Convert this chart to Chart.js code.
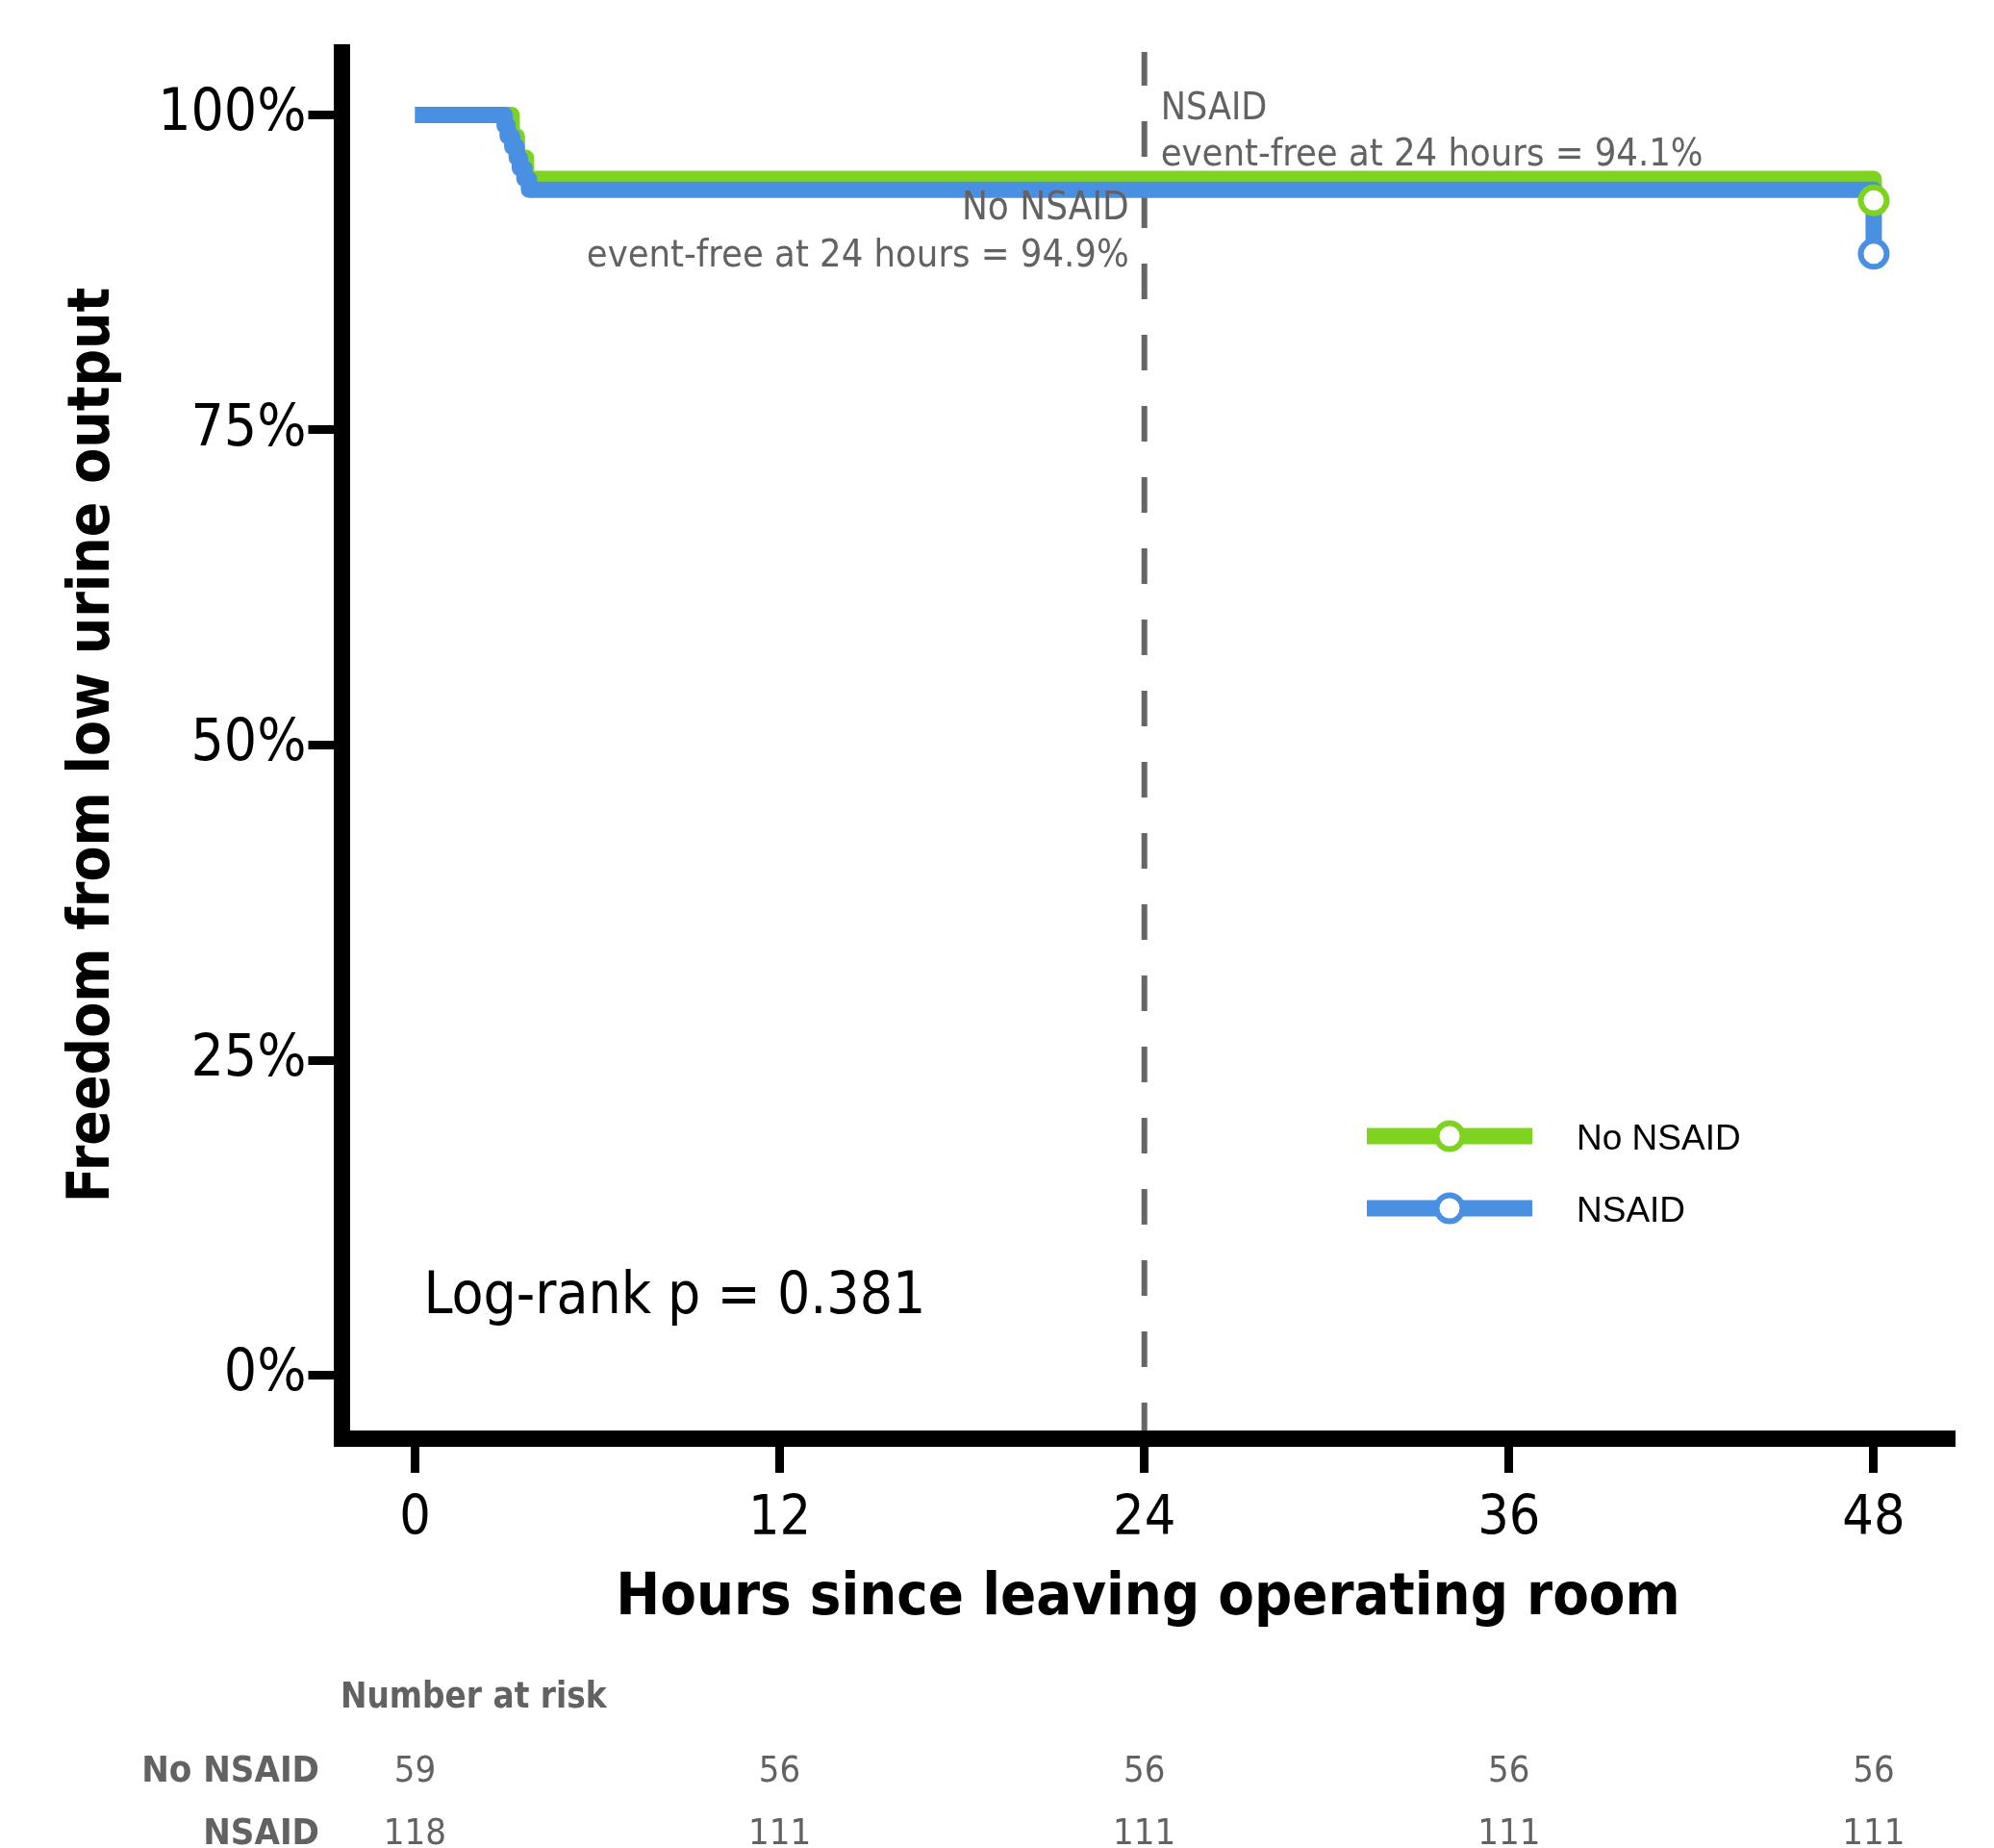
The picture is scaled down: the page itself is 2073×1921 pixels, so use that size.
<!DOCTYPE html>
<html>
<head>
<meta charset="utf-8">
<script src="https://cdn.jsdelivr.net/npm/chart.js@4.4.1/dist/chart.umd.min.js"></script>
<style>
  html, body { margin: 0; padding: 0; background: #fff; }
  canvas { display: block; }
</style>
</head>
<body>
<canvas id="km" width="2073" height="1921"></canvas>
<script>
// Kaplan-Meier estimates (hours, % event-free)
const noNsaidHours = [0, 3.18, 3.35, 3.65, 48];
const noNsaidSurv  = [100, 98.31, 96.61, 94.92, 93.22];
const nsaidHours   = [0, 2.95, 3.05, 3.2, 3.35, 3.45, 3.6, 3.75, 48];
const nsaidSurv    = [100, 99.15, 98.31, 97.46, 96.61, 95.76, 94.92, 94.07, 88.98];

const xTicks = [0, 12, 24, 36, 48];
const yTicks = [0, 25, 50, 75, 100];

// number at risk table
const riskTimes   = [0, 12, 24, 36, 48];
const riskNoNsaid = [59, 56, 56, 56, 56];
const riskNsaid   = [118, 111, 111, 111, 111];

const cutoffHour = 24;
const pValue = '0.381';
const eventFree24 = { noNsaid: '94.9%', nsaid: '94.1%' };

const GREEN = '#7ED321';
const BLUE = '#4A90E2';
const GREY = '#626262';
const COND = "'DejaVu Sans Condensed', 'DejaVu Sans', sans-serif";

const toPts = (xs, ys) => xs.map((x, i) => ({ x, y: ys[i] }));
const lastPt = (xs, ys) => [{ x: xs[xs.length - 1], y: ys[ys.length - 1] }];

function txt(ctx, str, x, y, font, align, color) {
  ctx.font = font;
  ctx.textAlign = align;
  ctx.textBaseline = 'alphabetic';
  ctx.fillStyle = color;
  ctx.fillText(str, x, y);
}

// dashed reference line at 24 h, under the curves
const cutoffLine = {
  id: 'cutoffLine',
  beforeDatasetsDraw(chart) {
    const { ctx, chartArea, scales: { x } } = chart;
    const px = x.getPixelForValue(cutoffHour);
    ctx.save();
    ctx.strokeStyle = '#666';
    ctx.lineWidth = 6;
    ctx.setLineDash([37, 37]);
    ctx.beginPath();
    ctx.moveTo(px, chartArea.bottom);
    ctx.lineTo(px, chartArea.top);
    ctx.stroke();
    ctx.restore();
  }
};

// annotations, legend and risk table
const extras = {
  id: 'extras',
  afterDraw(chart) {
    const { ctx, scales: { x } } = chart;
    const cx = x.getPixelForValue(cutoffHour);
    ctx.save();

    // event-free labels beside the 24 h line
    txt(ctx, 'NSAID', cx + 17, 124, `39px ${COND}`, 'left', GREY);
    txt(ctx, `event-free at 24 hours = ${eventFree24.nsaid}`, cx + 17, 172, `39.5px ${COND}`, 'left', GREY);
    txt(ctx, 'No NSAID', cx - 16, 228, `40px ${COND}`, 'right', GREY);
    txt(ctx, `event-free at 24 hours = ${eventFree24.noNsaid}`, cx - 16, 277, `39.5px ${COND}`, 'right', GREY);

    // log-rank
    txt(ctx, `Log-rank p = ${pValue}`, x.getPixelForValue(0) + 9, 1365, `60px ${COND}`, 'left', '#000');

    // legend
    const rows = [['No NSAID', GREEN, 1181], ['NSAID', BLUE, 1256]];
    rows.forEach(([label, color, y]) => {
      ctx.strokeStyle = color;
      ctx.lineWidth = 17;
      ctx.lineCap = 'butt';
      ctx.beginPath();
      ctx.moveTo(1421, y);
      ctx.lineTo(1593, y);
      ctx.stroke();
      ctx.beginPath();
      ctx.arc(1507, y, 13.5, 0, Math.PI * 2);
      ctx.fillStyle = '#fff';
      ctx.fill();
      ctx.lineWidth = 6;
      ctx.stroke();
      txt(ctx, label, 1639, y + 14, "37px 'Liberation Sans', Arial, sans-serif", 'left', '#000');
    });

    // number at risk
    txt(ctx, 'Number at risk', 354, 1775, `bold 36.5px ${COND}`, 'left', GREY);
    txt(ctx, 'No NSAID', 332, 1852, `bold 38px ${COND}`, 'right', GREY);
    txt(ctx, 'NSAID', 332, 1917, `bold 38px ${COND}`, 'right', GREY);
    riskTimes.forEach((t, i) => {
      const px = x.getPixelForValue(t);
      txt(ctx, String(riskNoNsaid[i]), px, 1852, `38px ${COND}`, 'center', GREY);
      txt(ctx, String(riskNsaid[i]), px, 1917, `38px ${COND}`, 'center', GREY);
    });
    ctx.restore();
  }
};

const curve = (label, xs, ys, color, order) => ({
  label, data: toPts(xs, ys), borderColor: color, borderWidth: 17,
  stepped: 'before', pointRadius: 0, borderJoinStyle: 'round', borderCapStyle: 'butt',
  fill: false, order
});
const censor = (label, xs, ys, color, order) => ({
  label, data: lastPt(xs, ys), showLine: false, pointRadius: 13.5, pointBorderWidth: 6,
  pointBorderColor: color, pointBackgroundColor: '#fff', order
});

new Chart(document.getElementById('km'), {
  type: 'line',
  data: {
    datasets: [
      curve('No NSAID', noNsaidHours, noNsaidSurv, GREEN, 3),
      curve('NSAID', nsaidHours, nsaidSurv, BLUE, 2),
      censor('No NSAID end', noNsaidHours, noNsaidSurv, GREEN, 1),
      censor('NSAID end', nsaidHours, nsaidSurv, BLUE, 0)
    ]
  },
  options: {
    responsive: false,
    animation: false,
    devicePixelRatio: 1,
    layout: { padding: { top: 54, right: 41, left: 0, bottom: 0 } },
    plugins: { legend: { display: false }, tooltip: { enabled: false } },
    scales: {
      x: {
        type: 'linear', min: -2.42, max: 50.66,
        afterBuildTicks: s => { s.ticks = xTicks.map(v => ({ value: v })); },
        afterFit: s => { s.height = 426; },
        border: { display: true, color: '#000', width: 17, z: 1 },
        grid: { display: true, drawOnChartArea: false, drawTicks: true, tickLength: 36, tickWidth: 9, tickColor: '#000', lineWidth: 1 },
        ticks: { color: '#000', font: { family: COND, size: 57 }, padding: 15, maxRotation: 0, autoSkip: false },
        title: {
          display: true, text: 'Hours since leaving operating room', color: '#000',
          font: { family: COND, size: 61, weight: 'bold' }, padding: { top: 0, bottom: 222 }
        }
      },
      y: {
        type: 'linear', min: -5, max: 105,
        afterBuildTicks: s => { s.ticks = yTicks.map(v => ({ value: v })); },
        afterFit: s => { s.width = 355; },
        border: { display: true, color: '#000', width: 17, z: 1 },
        grid: { display: true, drawOnChartArea: false, drawTicks: true, tickLength: 34.5, tickWidth: 9, tickColor: '#000', lineWidth: 1 },
        ticks: { color: '#000', font: { family: COND, size: 60 }, padding: 2, callback: v => v + '%' },
        title: {
          display: true, text: 'Freedom from low urine output', color: '#000',
          font: { family: COND, size: 60, weight: 'bold' }, padding: { top: 61, bottom: 0 }
        }
      }
    }
  },
  plugins: [cutoffLine, extras]
});
</script>
</body>
</html>
